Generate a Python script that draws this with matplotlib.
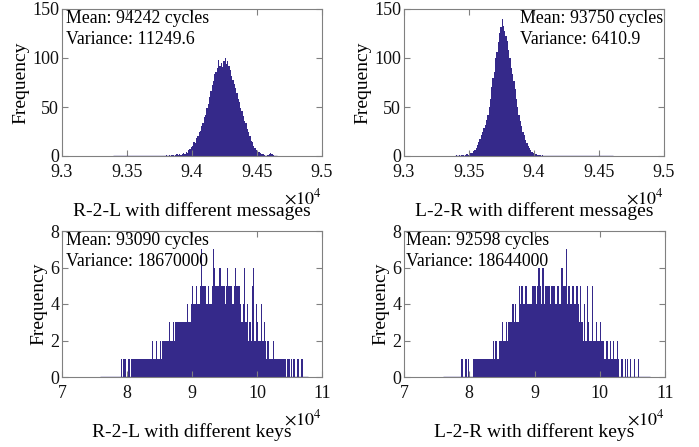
import numpy as np
import matplotlib
matplotlib.use('Agg')
import matplotlib.pyplot as plt
from matplotlib.ticker import FuncFormatter

plt.rcParams['font.family'] = ['Liberation Serif', 'DejaVu Serif']
plt.rcParams['mathtext.fontset'] = 'stix'

BAR = '#35298A'
GREY = '#808080'

# ---- top row: counts read in 10-cycle bins ----
msg_bin = 10
rl_msg_start = 93800
rl_msg_counts = [1, 0, 1, 0, 1, 1, 0, 1, 2, 1,
                 2, 1, 2, 3, 2, 4, 3, 6, 7, 9,
                 10, 14, 13, 18, 20, 24, 26, 31, 34, 40,
                 42, 49, 53, 60, 66, 72, 77, 84, 86, 90,
                 98, 92, 95, 91, 97, 100, 94, 97, 92, 88,
                 82, 78, 73, 69, 64, 58, 55, 49, 46, 41,
                 36, 34, 28, 24, 20, 15, 14, 10, 8, 6,
                 5, 4, 3, 2, 2, 1, 0, 0, 1, 2,
                 3, 2, 1, 0]
lr_msg_start = 93400
lr_msg_counts = [1, 0, 1, 0, 1, 1, 0, 1, 2, 1,
                 2, 3, 3, 5, 6, 8, 11, 14, 17, 21,
                 25, 29, 32, 37, 42, 50, 58, 70, 80, 86,
                 100, 106, 116, 125, 132, 140, 133, 128, 122, 117,
                 108, 100, 90, 84, 77, 68, 58, 50, 42, 36,
                 31, 25, 21, 16, 13, 10, 8, 6, 4, 3,
                 3, 2, 1, 1, 1, 0, 1, 0]
rl_msg_span = (93390, 94650)
lr_msg_span = (93390, 94610)

# ---- bottom row: max count per 200-cycle bin ----
key_bin = 200
key_start = 78000
rl_key_counts = [0, 0, 0, 0, 0, 1, 0, 1, 1, 0,
                 0, 1, 0, 1, 1, 1, 1, 1, 1, 1,
                 1, 1, 1, 1, 1, 1, 1, 1, 1, 2,
                 1, 1, 2, 1, 1, 2, 1, 2, 2, 2,
                 2, 2, 3, 2, 2, 3, 2, 3, 3, 3,
                 3, 3, 3, 3, 3, 3, 4, 3, 3, 4,
                 5, 4, 4, 5, 4, 4, 5, 7, 5, 5,
                 5, 4, 5, 4, 4, 5, 7, 6, 5, 5,
                 5, 6, 5, 5, 5, 4, 5, 6, 5, 5,
                 5, 4, 5, 6, 5, 5, 5, 4, 3, 4,
                 6, 3, 4, 2, 3, 2, 5, 6, 2, 4,
                 3, 2, 2, 4, 2, 3, 2, 1, 2, 1,
                 1, 1, 2, 1, 1, 1, 1, 1, 1, 1,
                 1, 1, 0, 1, 1, 0, 1, 0, 1, 0,
                 0, 1, 0, 0, 1, 0, 0, 0, 0, 0]
lr_key_counts = [0, 0, 0, 0, 1, 0, 0, 1, 0, 1,
                 0, 0, 0, 1, 1, 1, 1, 1, 1, 1,
                 1, 1, 1, 1, 1, 1, 1, 1, 2, 1,
                 2, 1, 1, 2, 2, 3, 2, 2, 3, 2,
                 3, 3, 3, 4, 3, 4, 3, 3, 5, 4,
                 5, 4, 4, 5, 4, 4, 4, 4, 5, 5,
                 5, 4, 5, 6, 5, 4, 6, 4, 5, 5,
                 5, 5, 4, 5, 5, 5, 4, 5, 5, 4,
                 6, 6, 5, 5, 7, 4, 5, 4, 4, 5,
                 4, 4, 5, 4, 3, 5, 3, 2, 4, 2,
                 5, 3, 2, 2, 5, 2, 2, 3, 2, 2,
                 3, 2, 2, 1, 1, 2, 1, 1, 2, 1,
                 2, 1, 1, 2, 1, 0, 1, 1, 0, 1,
                 0, 1, 0, 1, 0, 0, 1, 0, 0, 1,
                 0, 0, 0, 0, 0, 0, 0, 0, 0, 0]
rl_key_span = (75800, 107900)
lr_key_span = (76000, 107700)

panels = [
    dict(counts=rl_msg_counts, start=rl_msg_start, width=msg_bin, span=rl_msg_span,
         xlim=(93000, 95000), xticks=[93000, 93500, 94000, 94500, 95000],
         ylim=(0, 150), yticks=[0, 50, 100, 150],
         text='Mean: 94242 cycles\nVariance: 11249.6', tx=0.015,
         xlabel='R-2-L with different messages',
         rect=[62, 9, 260, 147]),
    dict(counts=lr_msg_counts, start=lr_msg_start, width=msg_bin, span=lr_msg_span,
         xlim=(93000, 95000), xticks=[93000, 93500, 94000, 94500, 95000],
         ylim=(0, 150), yticks=[0, 50, 100, 150],
         text='Mean: 93750 cycles\nVariance: 6410.9', tx=0.446,
         xlabel='L-2-R with different messages',
         rect=[404, 9, 260, 147]),
    dict(counts=rl_key_counts, start=key_start, width=key_bin, span=rl_key_span,
         xlim=(70000, 110000), xticks=[70000, 80000, 90000, 100000, 110000],
         ylim=(0, 8), yticks=[0, 2, 4, 6, 8],
         text='Mean: 93090 cycles\nVariance: 18670000', tx=0.015,
         xlabel='R-2-L with different keys',
         rect=[62, 231, 260, 146]),
    dict(counts=lr_key_counts, start=key_start, width=key_bin, span=lr_key_span,
         xlim=(70000, 110000), xticks=[70000, 80000, 90000, 100000, 110000],
         ylim=(0, 8), yticks=[0, 2, 4, 6, 8],
         text='Mean: 92598 cycles\nVariance: 18644000', tx=0.008,
         xlabel='L-2-R with different keys',
         rect=[404, 231, 261, 146]),
]

W, H = 699, 447
fig = plt.figure(figsize=(W / 100, H / 100), dpi=100)

for p in panels:
    x0, y0, w, h = p['rect']
    ax = fig.add_axes([x0 / W, 1 - (y0 + h) / H, w / W, h / H])
    counts = np.array(p['counts'])
    edges = p['start'] + p['width'] * np.arange(len(counts))
    ax.hlines(0, p['span'][0], p['span'][1], color=BAR, lw=1.0)
    ax.bar(edges, counts, width=p['width'], align='edge', color=BAR, linewidth=0)
    ax.set_xlim(p['xlim'])
    ax.set_ylim(p['ylim'])
    ax.set_xticks(p['xticks'])
    ax.set_yticks(p['yticks'])
    ax.xaxis.set_major_formatter(FuncFormatter(lambda v, pos: '%g' % (v / 1e4)))
    ax.tick_params(direction='in', length=4, top=True, right=True, color=GREY,
                   labelsize=13, labelcolor='#111111')
    ax.tick_params(axis='x', pad=6)
    ax.tick_params(axis='y', pad=2)
    for s in ax.spines.values():
        s.set_color(GREY)
        s.set_linewidth(0.8)
    ax.set_ylabel('Frequency', fontsize=14, labelpad=2)
    ax.set_xlabel(p['xlabel'], fontsize=14, labelpad=15)
    ax.text(1.0, -0.285, r'$\times10^{4}$', transform=ax.transAxes,
            ha='right', va='center', fontsize=13)
    ax.text(p['tx'], 0.99, p['text'], transform=ax.transAxes, ha='left', va='top',
            fontsize=12.8, linespacing=1.3)

fig.savefig('out.png', dpi=100)
